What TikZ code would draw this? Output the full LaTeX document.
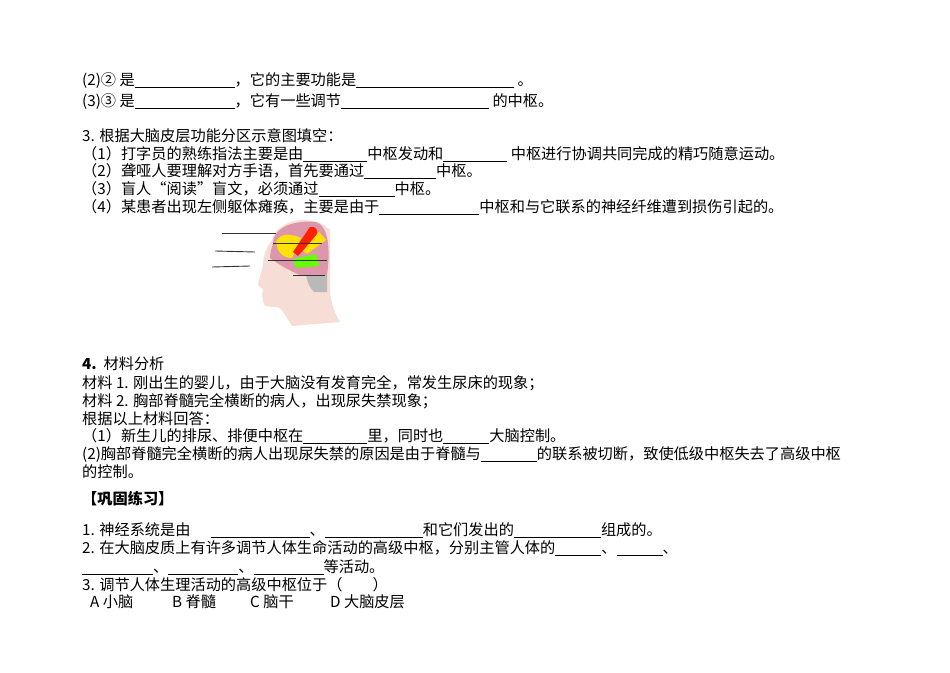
\documentclass[tikz,border=0pt]{standalone}
\usepackage{fontspec}
\setmainfont{Noto Sans CJK SC}
\begin{document}
\begin{tikzpicture}[x=1pt,y=-1pt,
  t/.style={anchor=base west,inner sep=0pt,font=\fontsize{15.2}{17}\selectfont},
  ln/.style={line width=0.9pt,black!80}]
\newcommand{\bl}[1]{\rule[-2.5pt]{#1pt}{0.6pt}}
\useasboundingbox[fill=white] (0,0) rectangle (950,672);
\node[t] (a1) at (82,85) {(2)② 是\bl{100}，它的主要功能是\bl{158}\ 。};
\node[t] (a2) at (82,106) {(3)③ 是\bl{100}，它有一些调节\bl{148}\ 的中枢。};
\node[t] (b0) at (82,141) {3. 根据大脑皮层功能分区示意图填空：};
\node[t] (b1) at (82,159) {（1）打字员的熟练指法主要是由\bl{64}中枢发动和\bl{64}\ 中枢进行协调共同完成的精巧随意运动。};
\node[t] (b2) at (82,176) {（2）聋哑人要理解对方手语，首先要通过\bl{72}中枢。};
\node[t] (b3) at (82,194) {（3）盲人“阅读”盲文，必须通过\bl{76}中枢。};
\node[t] (b4) at (82,212) {（4）某患者出现左侧躯体瘫痪，主要是由于\bl{100}中枢和与它联系的神经纤维遭到损伤引起的。};
% brain figure
\definecolor{skin}{RGB}{246,222,214}
\definecolor{brainpink}{RGB}{222,150,170}
\fill[skin] (300,220) .. controls (285,222) and (274,230) .. (272,240)
  .. controls (266,248) and (263,256) .. (263,266) -- (258,284)
  .. controls (258,287) and (262,287) .. (263,289) -- (262,296)
  .. controls (264,300) and (262,304) .. (266,306) .. controls (272,308) and (278,305) .. (282,310)
  -- (292,326) -- (340,322) .. controls (334,312) and (330,300) .. (330,290)
  -- (330,230) .. controls (322,222) and (312,220) .. (300,220) -- cycle;
\fill[gray!55] (306,275) -- (327,275) -- (327,292) -- (314,292) .. controls (310,288) and (307,282) .. (306,275) -- cycle;
\fill[brainpink] (273,243) .. controls (274,226) and (296,220) .. (316,222)
  .. controls (330,226) and (330,255) .. (327,275) -- (302,276)
  .. controls (288,270) and (278,264) .. (270,258) .. controls (270,252) and (272,248) .. (273,243) -- cycle;
\fill[yellow!85!orange] (276,242) .. controls (280,232) and (292,234) .. (301,238)
  -- (292,258) .. controls (283,258) and (277,252) .. (276,242) -- cycle;
\fill[red!75!orange] (310,227) .. controls (316,226) and (319,230) .. (316,236) -- (298,256) -- (293,252) -- cycle;
\fill[yellow!85!orange] (319,232) -- (326,240) -- (307,254) -- (303,251) -- cycle;
\fill[green!60!yellow] (293,259) -- (316,254) -- (319,266) -- (296,268) -- cycle;
\coordinate (p1) at (222,233); \coordinate (q1) at (276,233);
\coordinate (p2) at (215,251); \coordinate (q2) at (255,252);
\coordinate (p3) at (212,267); \coordinate (q3) at (250,266);
\draw[ln] (p1) -- (q1); \draw[ln] (p2) -- (q2); \draw[ln] (p3) -- (q3);
\coordinate (r1) at (273,243); \coordinate (s1) at (322,243);
\coordinate (r2) at (268,260); \coordinate (s2) at (327,260);
\coordinate (r3) at (293,275); \coordinate (s3) at (325,275);
\draw[ln] (r1) -- (s1); \draw[ln] (r2) -- (s2); \draw[ln] (r3) -- (s3);
% section 4
\node[t] (c0) at (82,369) {\textbf{4.}\ \ 材料分析};
\node[t] (c1) at (82,388) {材料 1. 刚出生的婴儿，由于大脑没有发育完全，常发生尿床的现象；};
\node[t] (c2) at (82,406) {材料 2. 胸部脊髓完全横断的病人，出现尿失禁现象；};
\node[t] (c3) at (82,424) {根据以上材料回答：};
\node[t] (c4) at (82,441) {（1）新生儿的排尿、排便中枢在\bl{64}里，同时也\bl{46}大脑控制。};
\node[t] (c5) at (82,459) {(2)胸部脊髓完全横断的病人出现尿失禁的原因是由于脊髓与\bl{56}的联系被切断，致使低级中枢失去了高级中枢};
\node[t] (c6) at (82,477) {的控制。};
\node[t] (d0) at (82,504) {\textbf{【巩固练习】}};
\node[t] (d1) at (82,535) {1. 神经系统是由\hspace{20pt}\bl{99}、\bl{98}和它们发出的\bl{87}组成的。};
\node[t] (d2) at (82,553) {2. 在大脑皮质上有许多调节人体生命活动的高级中枢，分别主管人体的\bl{46}、\bl{46}、};
\node[t] (d3) at (82,572) {\bl{71}、\bl{70}、\bl{70}等活动。};
\node[t] (d4) at (82,590) {3. 调节人体生理活动的高级中枢位于（\hspace{30pt}）};
\node[t] (e1) at (90,607) {A 小脑};
\node[t] (e2) at (172,607) {B 脊髓};
\node[t] (e3) at (250,607) {C 脑干};
\node[t] (e4) at (330,607) {D 大脑皮层};
\end{tikzpicture}
\end{document}
